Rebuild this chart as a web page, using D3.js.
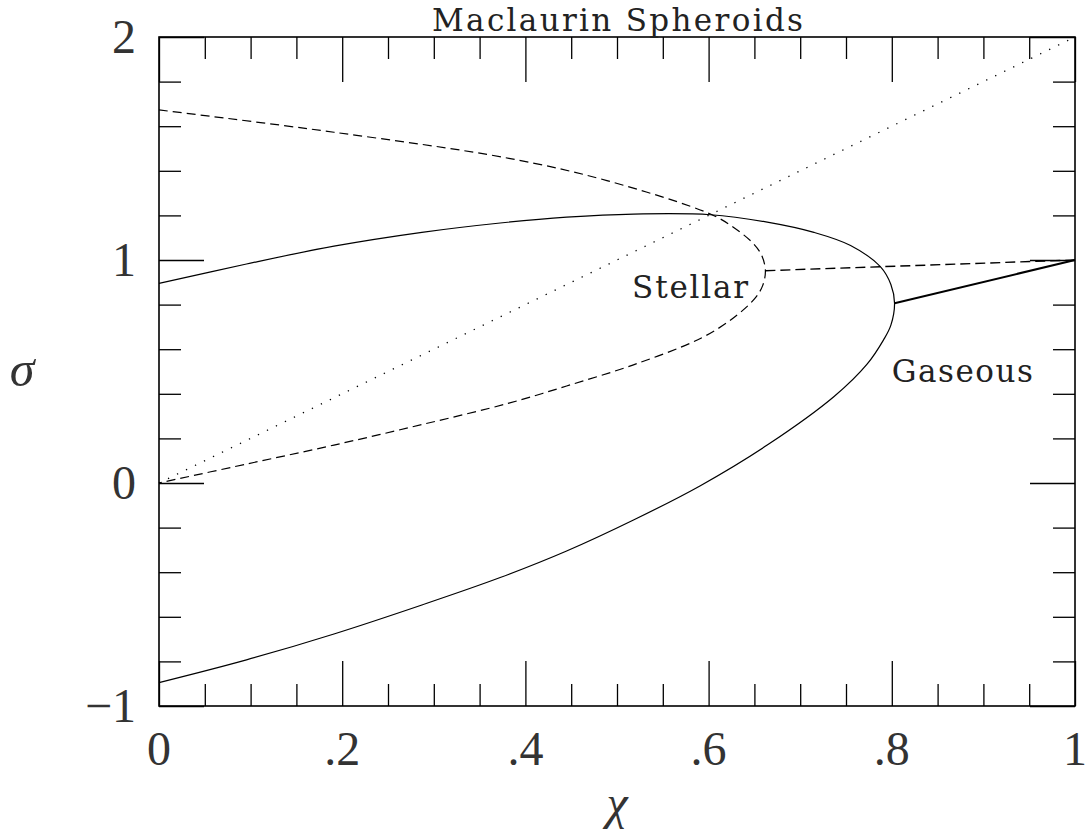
<!DOCTYPE html>
<html>
<head>
<meta charset="utf-8">
<script src="https://cdn.jsdelivr.net/npm/d3@7"></script>
<style>
  html, body { margin: 0; padding: 0; background: #fff; }
  svg { display: block; }
</style>
</head>
<body>
<svg id="chart" width="1086" height="833"></svg>
<script>
// ---------- data ----------
const title = "Maclaurin Spheroids";
const xLabel = "\u03C7";
const yLabel = "\u03C3";

const xMajorTicks = [0, 0.2, 0.4, 0.6, 0.8, 1];
const xTickLabels = ["0", ".2", ".4", ".6", ".8", "1"];
const xMinorTicks = [0.05, 0.1, 0.15, 0.25, 0.3, 0.35, 0.45, 0.5, 0.55, 0.65, 0.7, 0.75, 0.85, 0.9, 0.95];
const yMajorTicks = [-1, 0, 1, 2];
const yTickLabels = ["\u22121", "0", "1", "2"];
const yMinorTicks = [-0.8, -0.6, -0.4, -0.2, 0.2, 0.4, 0.6, 0.8, 1.2, 1.4, 1.6, 1.8];

// Gaseous sequence (solid curve), [chi, sigma]
const gaseousCurve = [
  [0, 0.895], [0.0955, 0.982], [0.191, 1.062], [0.287, 1.124], [0.3725, 1.166],
  [0.445, 1.192], [0.518, 1.206], [0.602, 1.203], [0.664, 1.17], [0.715, 1.124],
  [0.755, 1.065], [0.7875, 0.97], [0.799, 0.89], [0.803, 0.806],
  [0.799, 0.708], [0.791, 0.642], [0.773, 0.533], [0.737, 0.388], [0.664, 0.17],
  [0.591, -0.012], [0.518, -0.166], [0.445, -0.305], [0.3725, -0.424], [0.287, -0.547],
  [0.191, -0.677], [0.0955, -0.793], [0, -0.895]
];
// Stellar sequence (dashed curve)
const stellarCurve = [
  [0, 1.673], [0.191, 1.573], [0.382, 1.456], [0.489, 1.356], [0.602, 1.206],
  [0.627, 1.147], [0.649, 1.073], [0.658, 1.02], [0.662, 0.952], [0.659, 0.885],
  [0.651, 0.83], [0.627, 0.74], [0.591, 0.648], [0.518, 0.53], [0.445, 0.435],
  [0.382, 0.358], [0.287, 0.262], [0.191, 0.17], [0.0955, 0.085], [0, 0]
];
const stellarBranch = [[0.662, 0.952], [1, 1]];
const gaseousBranch = [[0.803, 0.806], [1, 1]];
const diagonal = [[0, 0], [1, 2]];

const regionLabels = [
  { text: "Stellar", chi: 0.5165, sigma: 0.83, width: 116 },
  { text: "Gaseous", chi: 0.8, sigma: 0.455, width: 141 }
];

// ---------- layout ----------
const svg = d3.select("#chart");
const plotLeft = 159, plotRight = 1075, plotTop = 37, plotBottom = 706;
const x = d3.scaleLinear().domain([0, 1]).range([plotLeft, plotRight]);
const y = d3.scaleLinear().domain([-1, 2]).range([plotBottom, plotTop]);

const serif = "'Liberation Serif', 'Times New Roman', serif";
const textFont = "'DejaVu Serif', serif";

// ticks (inward, on all four sides)
function tickAxis(axis, vals, size, transform) {
  const g = svg.append("g").attr("transform", transform)
    .call(axis.tickValues(vals).tickSize(-size).tickSizeOuter(0).tickFormat(""));
  g.select(".domain").remove();
  g.selectAll("line").attr("stroke", "#000").attr("stroke-width", 1.3);
}
tickAxis(d3.axisBottom(x), xMajorTicks, 45, `translate(0,${plotBottom})`);
tickAxis(d3.axisBottom(x), xMinorTicks, 22, `translate(0,${plotBottom})`);
tickAxis(d3.axisTop(x), xMajorTicks, 45, `translate(0,${plotTop})`);
tickAxis(d3.axisTop(x), xMinorTicks, 22, `translate(0,${plotTop})`);
tickAxis(d3.axisLeft(y), yMajorTicks, 45, `translate(${plotLeft},0)`);
tickAxis(d3.axisLeft(y), yMinorTicks, 22, `translate(${plotLeft},0)`);
tickAxis(d3.axisRight(y), yMajorTicks, 45, `translate(${plotRight},0)`);
tickAxis(d3.axisRight(y), yMinorTicks, 22, `translate(${plotRight},0)`);

// frame
svg.append("rect")
  .attr("x", x(0)).attr("y", y(2))
  .attr("width", x(1) - x(0)).attr("height", y(-1) - y(2))
  .attr("fill", "none").attr("stroke", "#000").attr("stroke-width", 1.6);

// tick labels
svg.append("g").selectAll("text").data(xMajorTicks).join("text")
  .attr("x", d => x(d)).attr("y", plotBottom + 59)
  .attr("text-anchor", "middle")
  .attr("font-family", serif).attr("font-size", 48).attr("fill", "#333")
  .text((d, i) => xTickLabels[i]);

svg.append("g").selectAll("text").data(yMajorTicks).join("text")
  .attr("x", 136).attr("y", d => y(d) + 16)
  .attr("text-anchor", "end")
  .attr("font-family", serif).attr("font-size", 48).attr("fill", "#333")
  .text((d, i) => yTickLabels[i]);

// axis titles
svg.append("text").attr("x", (plotLeft + plotRight) / 2).attr("y", 819)
  .attr("text-anchor", "middle").attr("font-family", serif)
  .attr("font-style", "italic").attr("font-size", 48).attr("fill", "#333")
  .text(xLabel);
svg.append("text").attr("x", 22).attr("y", 386)
  .attr("text-anchor", "middle").attr("font-family", serif)
  .attr("font-style", "italic").attr("font-size", 50).attr("fill", "#333")
  .text(yLabel);

// title
svg.append("text").attr("x", 432).attr("y", 31)
  .attr("font-family", textFont).attr("font-size", 31).attr("fill", "#222")
  .attr("textLength", 371).attr("lengthAdjust", "spacing")
  .text(title);

// curves
const line = d3.line().x(d => x(d[0])).y(d => y(d[1]));
const smooth = d3.line().x(d => x(d[0])).y(d => y(d[1])).curve(d3.curveCatmullRom.alpha(0.5));

svg.append("path").datum(diagonal).attr("d", line)
  .attr("fill", "none").attr("stroke", "#000").attr("stroke-width", 1.3)
  .attr("stroke-dasharray", "1.3 8.7");

svg.append("path").datum(stellarCurve).attr("d", smooth)
  .attr("fill", "none").attr("stroke", "#000").attr("stroke-width", 1.2)
  .attr("stroke-dasharray", "9 5");
svg.append("path").datum(stellarBranch).attr("d", line)
  .attr("fill", "none").attr("stroke", "#000").attr("stroke-width", 1.4)
  .attr("stroke-dasharray", "10 5");

svg.append("path").datum(gaseousCurve).attr("d", smooth)
  .attr("fill", "none").attr("stroke", "#000").attr("stroke-width", 1.2);
svg.append("path").datum(gaseousBranch).attr("d", line)
  .attr("fill", "none").attr("stroke", "#000").attr("stroke-width", 2);

// region labels
svg.append("g").selectAll("text").data(regionLabels).join("text")
  .attr("x", d => x(d.chi)).attr("y", d => y(d.sigma))
  .attr("font-family", textFont).attr("font-size", 31).attr("fill", "#222")
  .attr("textLength", d => d.width).attr("lengthAdjust", "spacing")
  .text(d => d.text);
</script>
</body>
</html>
